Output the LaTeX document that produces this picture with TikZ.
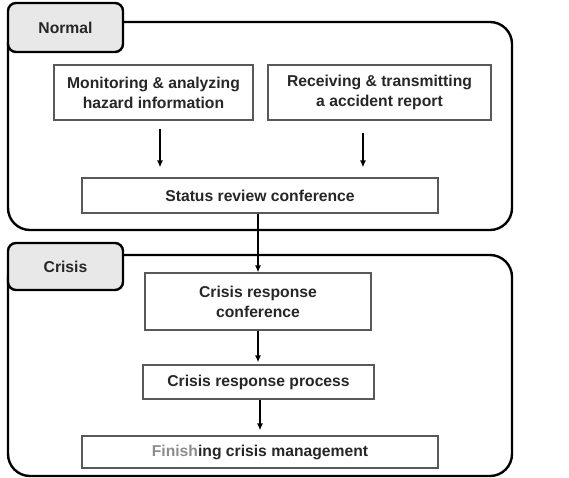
\documentclass[tikz,border=0pt]{standalone}
\usepackage{fontspec}
\setmainfont{Liberation Sans}
\usetikzlibrary{arrows.meta,calc}
\begin{document}
\begin{tikzpicture}[x=1pt,y=-1pt,
  txt/.style={font=\fontsize{15.7}{20}\selectfont\bfseries, text=black!85},
  stepbox/.style={txt, draw=black!65, line width=1.1pt, align=center, inner sep=0pt},
  region/.style={draw=black, line width=2.4pt, rounded corners=22pt},
  tab/.style={draw=black, line width=2.4pt, fill=black!9, rounded corners=8pt},
  arr/.style={draw=black, line width=1.4pt, -{Latex[length=7pt,width=6pt]}}]
\useasboundingbox (0,0) rectangle (569,478);
% regions
\draw[region] (8,22) rectangle (512,230);
\draw[tab] (8,3) rectangle (123,52);
\node[txt] (tabN) at (65.5,27.5) {Normal};
\draw[region] (8,255) rectangle (512,476);
\draw[tab] (8,243) rectangle (123,290);
\node[txt] (tabC) at (65.5,266.5) {Crisis};
% boxes
\node[stepbox, minimum width=199pt, minimum height=55pt] (b1) at (153.5,92.5) {Monitoring \& analyzing\\hazard information};
\node[stepbox, minimum width=223pt, minimum height=55pt] (b2) at (379.5,92.5) {Receiving \& transmitting\\a accident report};
\node[stepbox, minimum width=356pt, minimum height=35pt] (st) at (260,195.5) {Status review conference};
\node[stepbox, minimum width=226pt, minimum height=57pt] (crc) at (258,301.5) {Crisis response\\conference};
\node[stepbox, minimum width=231pt, minimum height=34pt] (crp) at (258.5,382) {Crisis response process};
\node[stepbox, minimum width=356pt, minimum height=32pt] (fin) at (260,452) {\textcolor{black!45}{Finish}ing crisis management};
% connectors
\coordinate (a1) at (160,0);
\coordinate (a2) at (363,0);
\draw[arr, shorten <=8pt, shorten >=10pt] (a1 |- b1.south) -- (a1 |- st.north);
\draw[arr, shorten <=12pt, shorten >=10pt] (a2 |- b2.south) -- (a2 |- st.north);
\draw[arr] (st.south -| crc.north) -- (crc.north);
\draw[arr] (crc.south) -- ($(crc.south |- crp.north)+(0,-2)$) coordinate (t1);
\coordinate (a3) at (260,0);
\draw[arr] (a3 |- crp.south) -- ($(a3 |- fin.north)+(0,-5)$) coordinate (t2);
\end{tikzpicture}
\end{document}
